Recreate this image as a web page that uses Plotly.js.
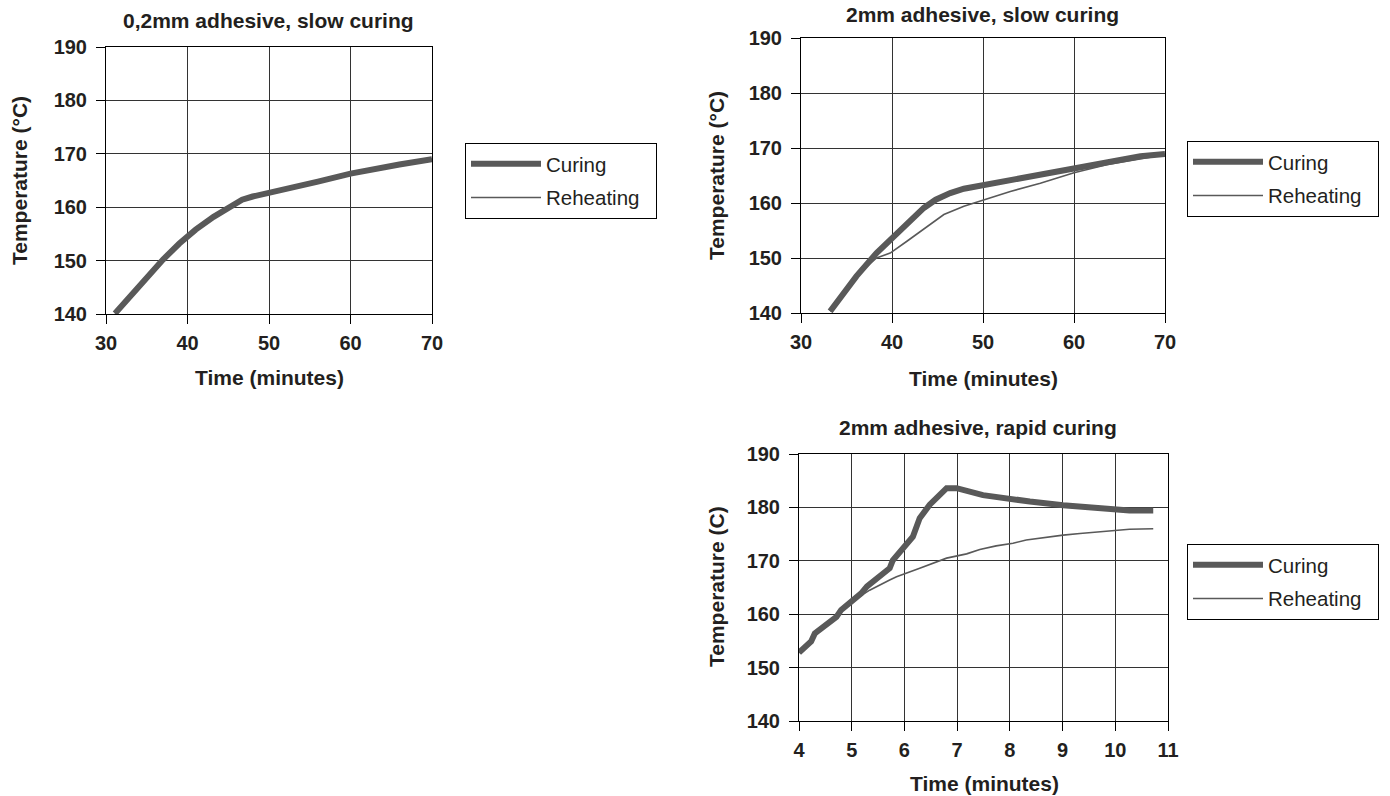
<!DOCTYPE html>
<html>
<head>
<meta charset="utf-8">
<script src="https://cdn.plot.ly/plotly-3.0.1.min.js"></script>
<style>html,body{margin:0;padding:0;background:#fff;}#chart{width:1390px;height:796px;}</style>
</head>
<body>
<div id="chart"></div>
<script>
// ---- Data ----
const seriesNames = ["Curing", "Reheating"];
const titles = ["0,2mm adhesive, slow curing", "2mm adhesive, slow curing", "2mm adhesive, rapid curing"];
const yTitles = ["Temperature (°C)", "Temperature (°C)", "Temperature (C)"];
const xTitle = "Time (minutes)";
const tempTicks = [140, 150, 160, 170, 180, 190];
const slowTimeTicks = [30, 40, 50, 60, 70];
const rapidTimeTicks = [4, 5, 6, 7, 8, 9, 10, 11];

// Chart 1: 0,2mm adhesive, slow curing
const c1_time = [31.1, 33, 35, 37, 39, 40, 41, 43.2, 45, 46.7, 48, 50.1, 53, 56, 60, 63, 66, 70];
const c1_curing = [140.1, 143.3, 146.9, 150.2, 153.2, 154.6, 155.8, 158.2, 160.0, 161.4, 162.0, 162.7, 163.6, 164.8, 166.3, 167.2, 168.0, 169.0];
const c1_reheat = [140.1, 143.3, 146.9, 150.2, 153.2, 154.6, 155.8, 158.2, 160.0, 161.4, 162.0, 162.7, 163.6, 164.8, 166.3, 167.2, 168.0, 169.0];

// Chart 2: 2mm adhesive, slow curing
const c2_cur_time = [33.2, 36.1, 38.3, 40.2, 42.0, 43.5, 44.8, 46.4, 47.9, 50.1, 53.0, 56.3, 60.0, 63.7, 67.3, 70];
const c2_curing = [140.3, 146.7, 150.9, 153.9, 157.0, 159.1, 160.6, 161.8, 162.6, 163.3, 164.2, 165.2, 166.4, 167.6, 168.5, 168.9];
const c2_reh_time = [33.2, 36.1, 38.3, 39.8, 41.6, 43.5, 45.7, 47.9, 50.1, 53.0, 56.3, 60.0, 63.7, 67.3, 70];
const c2_reheat = [140.3, 146.8, 150.0, 150.9, 153.0, 155.2, 157.9, 159.4, 160.6, 162.1, 163.6, 165.5, 167.0, 168.0, 168.8];

// Chart 3: 2mm adhesive, rapid curing
const c3_cur_time = [4.0, 4.23, 4.30, 4.46, 4.71, 4.80, 4.99, 5.18, 5.29, 5.53, 5.72, 5.78, 5.97, 6.16, 6.29, 6.48, 6.80, 6.99, 7.49, 8.0, 8.38, 9.01, 9.64, 10.27, 10.72];
const c3_curing = [152.8, 154.9, 156.4, 157.7, 159.5, 160.8, 162.3, 163.9, 165.2, 167.0, 168.6, 170.1, 172.3, 174.5, 178.0, 180.5, 183.6, 183.6, 182.3, 181.5, 181.1, 180.4, 179.8, 179.4, 179.4];
const c3_reh_time = [4.0, 4.3, 4.6, 4.9, 5.15, 5.34, 5.72, 5.85, 6.29, 6.80, 7.18, 7.43, 7.74, 8.06, 8.31, 8.69, 9.01, 9.33, 9.96, 10.27, 10.72];
const c3_reheat = [152.8, 156.0, 158.5, 161.6, 163.3, 164.5, 166.4, 167.0, 168.6, 170.5, 171.3, 172.1, 172.8, 173.3, 173.9, 174.4, 174.8, 175.1, 175.6, 175.9, 176.0];

// ---- Styling ----
const W = 1390, H = 796;
const FONT = 'Liberation Sans, Arial, sans-serif';
const LINE = '#595959';
const TXT = '#231f20';
const PAD = '\u00a0\u00a0';
const px = v => v / W;
const py = v => 1 - v / H;

function tr(x, y, name, xa, ya, leg, wide, rank) {
  return {
    x: x, y: y, type: 'scatter', mode: 'lines', name: name + PAD,
    xaxis: xa, yaxis: ya, legend: leg, legendgroup: leg + name, legendrank: rank,
    line: {color: LINE, width: wide ? 6 : 1.6, shape: 'linear'},
    hoverinfo: 'skip'
  };
}

const data = [
  tr(c1_time, c1_reheat, seriesNames[1], 'x', 'y', 'legend', false, 2),
  tr(c1_time, c1_curing, seriesNames[0], 'x', 'y', 'legend', true, 1),
  tr(c2_reh_time, c2_reheat, seriesNames[1], 'x2', 'y2', 'legend2', false, 2),
  tr(c2_cur_time, c2_curing, seriesNames[0], 'x2', 'y2', 'legend2', true, 1),
  tr(c3_reh_time, c3_reheat, seriesNames[1], 'x3', 'y3', 'legend3', false, 2),
  tr(c3_cur_time, c3_curing, seriesNames[0], 'x3', 'y3', 'legend3', true, 1)
];

function common(ticks) {
  return {
    tickvals: ticks, ticktext: ticks.map(v => '<b>' + v + '</b>'),
    showgrid: true, gridcolor: '#333', gridwidth: 1,
    showline: true, linecolor: '#000', linewidth: 1, mirror: true,
    ticks: 'outside', ticklen: 9, tickcolor: '#000', tickwidth: 1,
    zeroline: false, fixedrange: true,
    tickfont: {family: FONT, size: 20, color: TXT, weight: 700}
  };
}
function xax(dom, range, ticks, anchor) {
  return Object.assign(common(ticks), {domain: dom, range: range, anchor: anchor, ticklabelstandoff: 2});
}
function yax(dom, anchor) {
  return Object.assign(common(tempTicks), {domain: dom, range: [140, 190], anchor: anchor, ticklabelstandoff: 5});
}
function legendCfg(left, top) {
  return {
    x: px(left), y: py(top), xanchor: 'left', yanchor: 'top',
    xref: 'paper', yref: 'paper',
    bgcolor: '#fff', bordercolor: '#000', borderwidth: 1,
    font: {family: FONT, size: 20.5, color: TXT},
    itemwidth: 70, traceorder: 'grouped', tracegroupgap: 4,
    itemclick: false, itemdoubleclick: false
  };
}
function ann(text, x, y, size, angle) {
  return {
    text: '<b>' + text + '</b>', x: px(x), y: py(y), xref: 'paper', yref: 'paper',
    xanchor: 'center', yanchor: 'middle', showarrow: false, textangle: angle || 0,
    font: {family: FONT, size: size, color: TXT}
  };
}

const layout = {
  width: W, height: H,
  margin: {l: 0, r: 0, t: 0, b: 0},
  paper_bgcolor: '#fff', plot_bgcolor: '#fff',
  xaxis: xax([px(106), px(432)], [30, 70], slowTimeTicks, 'y'),
  yaxis: yax([py(314), py(47)], 'x'),
  xaxis2: xax([px(801), px(1165)], [30, 70], slowTimeTicks, 'y2'),
  yaxis2: yax([py(313), py(38)], 'x2'),
  xaxis3: xax([px(799), px(1168)], [4, 11], rapidTimeTicks, 'y3'),
  yaxis3: yax([py(721), py(454)], 'x3'),
  legend: legendCfg(465, 143),
  legend2: legendCfg(1187, 141),
  legend3: legendCfg(1187, 544),
  annotations: [
    ann(titles[0], 268, 20, 21),
    ann(titles[1], 982, 15, 21),
    ann(titles[2], 978, 427, 21),
    ann(yTitles[0], 20, 181, 21, -90),
    ann(yTitles[1], 716, 176, 21, -90),
    ann(yTitles[2], 716, 587, 21, -90),
    ann(xTitle, 269, 377, 21),
    ann(xTitle, 983, 378, 21),
    ann(xTitle, 984, 783, 21)
  ],
  showlegend: true,
  hovermode: false
};

Plotly.newPlot('chart', data, layout, {displayModeBar: false});
</script>
</body>
</html>
